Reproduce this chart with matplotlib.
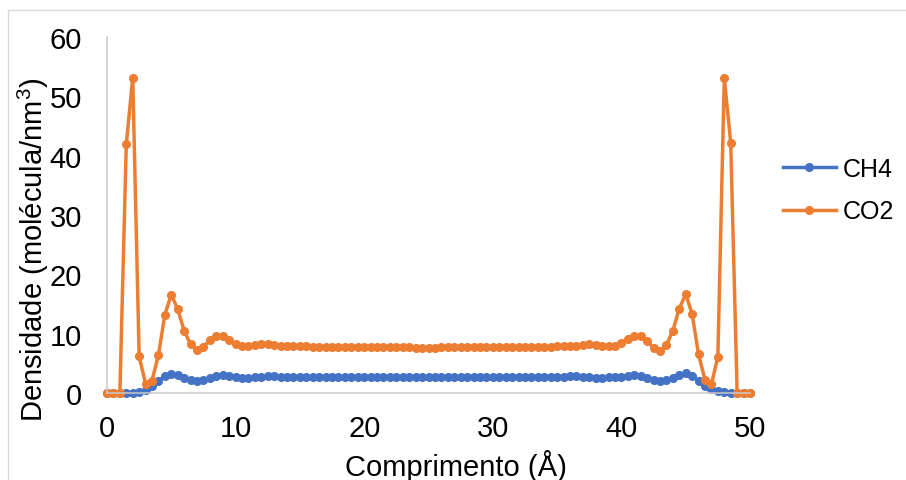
import matplotlib
matplotlib.use('Agg')
import matplotlib.pyplot as plt
from matplotlib.patches import Rectangle
import numpy as np

plt.rcParams['font.family'] = ['Liberation Sans', 'DejaVu Sans']
plt.rcParams['mathtext.fontset'] = 'custom'
plt.rcParams['mathtext.rm'] = 'Liberation Sans'
plt.rcParams['mathtext.default'] = 'regular'

# comprimento: 0 a 50 A, passo 0.5
x = np.arange(0, 50.5, 0.5)

ch4 = [0, 0, 0, 0, 0.05, 0.1, 0.5, 1.2, 2.1, 2.8,
       3.2, 3.0, 2.6, 2.2, 2.0, 2.2, 2.6, 2.9, 3.0, 2.8,
       2.7, 2.6, 2.6, 2.7, 2.7, 2.8, 2.8, 2.7, 2.7, 2.7,
       2.7, 2.7, 2.7, 2.7, 2.7, 2.7, 2.7, 2.7, 2.7, 2.7,
       2.7, 2.7, 2.7, 2.7, 2.7, 2.7, 2.7, 2.7, 2.7, 2.7,
       2.7, 2.7, 2.7, 2.7, 2.7, 2.7, 2.7, 2.7, 2.7, 2.7,
       2.7, 2.7, 2.7, 2.7, 2.7, 2.7, 2.7, 2.7, 2.7, 2.7,
       2.7, 2.7, 2.8, 2.8, 2.7, 2.7, 2.6, 2.6, 2.7, 2.7,
       2.7, 2.8, 3.1, 2.9, 2.6, 2.2, 2.0, 2.2, 2.6, 3.1,
       3.4, 2.9, 2.1, 1.2, 0.6, 0.3, 0.1, 0.05, 0, 0,
       0]

co2 = [0, 0, 0, 41.9, 53.1, 6.2, 1.5, 2.1, 6.4, 13.2,
       16.6, 14.1, 10.5, 8.2, 7.3, 7.8, 8.9, 9.6, 9.6, 9.0,
       8.3, 8.0, 8.0, 8.1, 8.2, 8.2, 8.1, 8.0, 7.9, 7.9,
       7.9, 7.9, 7.8, 7.8, 7.8, 7.8, 7.7, 7.7, 7.7, 7.7,
       7.7, 7.7, 7.7, 7.7, 7.7, 7.7, 7.7, 7.7, 7.6, 7.6,
       7.6, 7.6, 7.7, 7.7, 7.7, 7.7, 7.7, 7.7, 7.7, 7.7,
       7.7, 7.7, 7.7, 7.7, 7.7, 7.8, 7.8, 7.8, 7.8, 7.8,
       7.9, 7.9, 7.9, 8.0, 8.1, 8.2, 8.1, 8.0, 7.9, 8.0,
       8.4, 9.1, 9.6, 9.6, 8.8, 7.6, 7.1, 8.1, 10.5, 14.2,
       16.7, 13.3, 6.5, 2.2, 1.5, 6.1, 53.1, 42.2, 0, 0,
       0]

fig = plt.figure(figsize=(9.06, 4.81), dpi=100)
ax = fig.add_axes([107/906, 1 - 394/481, (750 - 107)/906, (394 - 38)/481])

ax.plot(x, ch4, color='#4472C4', lw=2.5, marker='o', ms=5.5, label='CH4', clip_on=False)
ax.plot(x, co2, color='#ED7D31', lw=2.5, marker='o', ms=5.5, label='CO2', clip_on=False)

ax.set_xlim(0, 50)
ax.set_ylim(0, 60)
ax.set_xticks([0, 10, 20, 30, 40, 50])
ax.set_yticks([0, 10, 20, 30, 40, 50, 60])
ax.tick_params(length=0, labelsize=21)
ax.tick_params(axis='x', pad=15)
ax.tick_params(axis='y', pad=18)
for s in ['top', 'right']:
    ax.spines[s].set_visible(False)
for s in ['left', 'bottom']:
    ax.spines[s].set_color('#C9C9C9')
    ax.spines[s].set_linewidth(1.1)

fig.text(456/906, 1 - 476/481, 'Comprimento (Å)', fontsize=21, ha='center', va='baseline')
fig.text(33/906, 1 - 250/481, 'Densidade (molécula/nm$^3$)', fontsize=21,
         rotation=90, ha='center', va='center')

fig.legend(loc='center left', bbox_to_anchor=(783/906, 1 - 191/481), frameon=False,
           fontsize=18, handlelength=2.1, handletextpad=0.3, borderpad=0,
           borderaxespad=0, labelspacing=0.75)

fig.patches.append(Rectangle((8/906, -0.1), 1.2, (481 - 11)/481 + 0.1,
                             transform=fig.transFigure, fill=False,
                             edgecolor='#D9D9D9', lw=1))

plt.savefig('out.png', dpi=100)
